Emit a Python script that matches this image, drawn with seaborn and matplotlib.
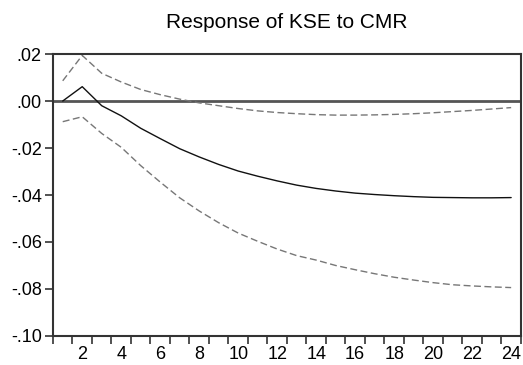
import numpy as np
import pandas as pd
import seaborn as sns
import matplotlib.pyplot as plt
from matplotlib.ticker import FuncFormatter, FixedLocator

# --- Data ---
periods = list(range(1, 25))
response = [0.0000, 0.0061, -0.0020, -0.0063, -0.0116, -0.0160, -0.0203, -0.0238,
            -0.0270, -0.0298, -0.0320, -0.0340, -0.0358, -0.0372, -0.0383, -0.0392,
            -0.0398, -0.0403, -0.0407, -0.0410, -0.0411, -0.0412, -0.0412, -0.0411]
upper_band = [0.0086, 0.0194, 0.0118, 0.0081, 0.0049, 0.0027, 0.0008, -0.0008,
              -0.0020, -0.0032, -0.0042, -0.0049, -0.0054, -0.0058, -0.0060, -0.0060,
              -0.0059, -0.0057, -0.0054, -0.0050, -0.0045, -0.0040, -0.0034, -0.0028]
lower_band = [-0.0088, -0.0067, -0.0138, -0.0197, -0.0275, -0.0345, -0.0412, -0.0468,
              -0.0518, -0.0562, -0.0597, -0.0630, -0.0658, -0.0677, -0.0700, -0.0718,
              -0.0735, -0.0750, -0.0762, -0.0773, -0.0782, -0.0787, -0.0791, -0.0794]
y_ticks = [0.02, 0.00, -0.02, -0.04, -0.06, -0.08, -0.10]
x_labels = [2, 4, 6, 8, 10, 12, 14, 16, 18, 20, 22, 24]

df = pd.DataFrame({'period': periods, 'response': response,
                   'upper': upper_band, 'lower': lower_band})

sns.set_style('white')
plt.rcParams['font.family'] = ['Liberation Sans', 'DejaVu Sans']
plt.rcParams['text.color'] = 'black'

fig = plt.figure(figsize=(5.23, 3.65), dpi=100)
ax = fig.add_axes([0.1013, 0.0795, 0.8947, 0.7725])

ax.axhline(0, color='#555555', linewidth=2.0, zorder=1)
sns.lineplot(data=df, x='period', y='upper', ax=ax, color='#777777',
             linewidth=1.0, linestyle=(0, (5, 2.5)))
sns.lineplot(data=df, x='period', y='lower', ax=ax, color='#777777',
             linewidth=1.0, linestyle=(0, (5, 2.5)))
sns.lineplot(data=df, x='period', y='response', ax=ax, color='#111111',
             linewidth=1.0)

ax.set_xlim(0.5, 24.5)
ax.set_ylim(-0.10, 0.02)

# x: tick marks between periods, labels on even periods
ax.xaxis.set_minor_locator(FixedLocator(np.arange(0.5, 25, 1)))
ax.set_xticks(x_labels)
ax.set_xticklabels([str(v) for v in x_labels])
ax.tick_params(axis='x', which='major', length=0, pad=7, labelsize=13,
               labelcolor='black')
ax.tick_params(axis='x', which='minor', length=6, width=1.2,
               direction='out', color='#333333', bottom=True)

ax.set_yticks(y_ticks)
ax.yaxis.set_major_formatter(FuncFormatter(
    lambda v, p: f'{v:.2f}'.replace('0.', '.')))
ax.tick_params(axis='y', length=6, width=1.2, direction='out',
               color='#333333', left=True, labelsize=13, pad=2,
               labelcolor='black')

for s in ax.spines.values():
    s.set_color('#333333')
    s.set_linewidth(1.5)

ax.set_xlabel('')
ax.set_ylabel('')
ax.set_title('Response of KSE to CMR', fontsize=15, pad=19, color='black')

fig.savefig('out.png', dpi=100)
